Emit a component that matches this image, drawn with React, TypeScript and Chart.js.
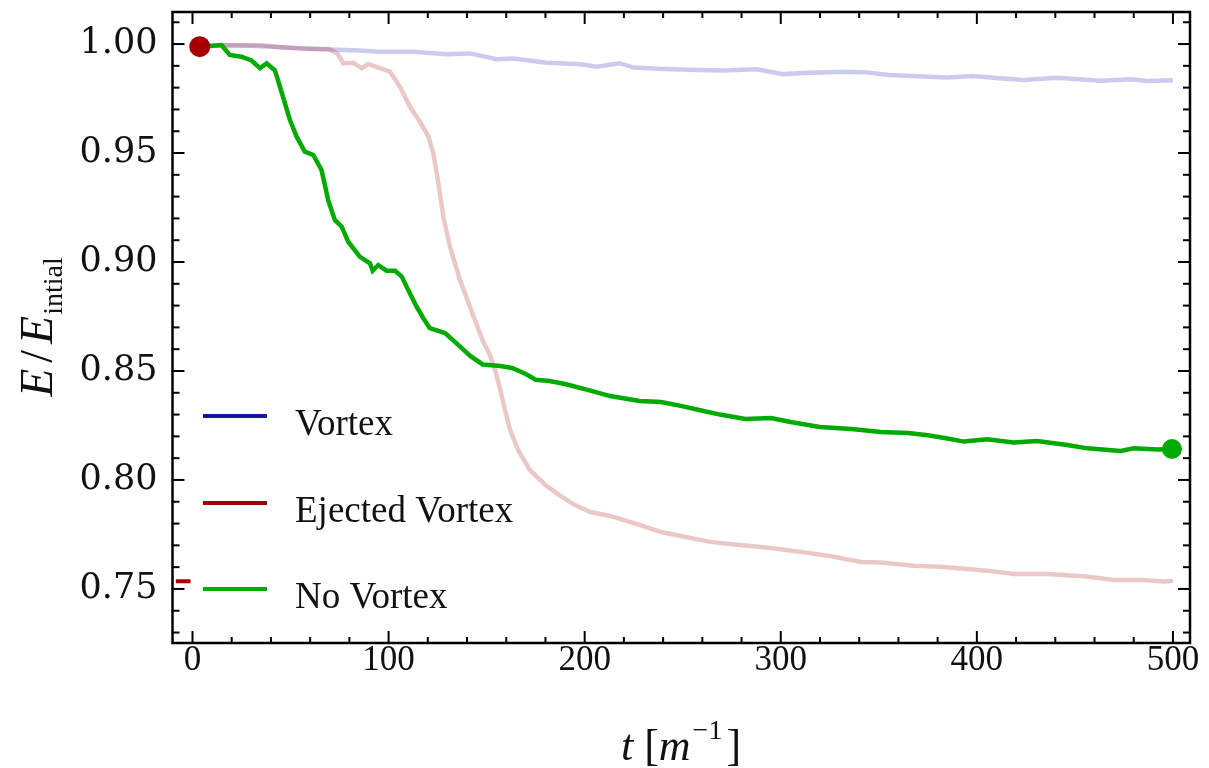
import React, { useEffect, useRef } from "react";
import { Chart, registerables } from "chart.js";

Chart.register(...registerables);

// ---- data ----
const vortexT = [4, 15, 30, 45, 60, 70, 85, 95.6, 112.6, 129.6, 141.5, 155.2, 163.7, 180.7, 197.7, 206, 218, 225, 240.6, 257.9, 270, 288, 301, 315, 333, 344, 355, 370, 385, 398, 410, 424, 441, 452, 463, 471, 479, 487, 500];
const vortexE = [0.9988, 0.9994, 0.9992, 0.9985, 0.9978, 0.9975, 0.997, 0.9965, 0.9965, 0.9953, 0.9957, 0.993, 0.9934, 0.9914, 0.9907, 0.9896, 0.9912, 0.9892, 0.9886, 0.9881, 0.9879, 0.9884, 0.9862, 0.9868, 0.9873, 0.987, 0.9858, 0.9852, 0.9847, 0.9853, 0.9844, 0.9835, 0.9845, 0.9838, 0.9832, 0.9835, 0.9838, 0.983, 0.9834];

const ejectedT = [4, 15, 25, 35, 45, 55, 65, 70, 74, 77, 82, 86.3, 89.6, 95.6, 100.7, 105.8, 110.9, 116, 120.3, 122.8, 125.4, 127.9, 131.3, 136.4, 141.5, 144, 148, 151.8, 154.3, 157, 159.4, 162, 166, 172, 180, 187.6, 195, 203, 213, 228, 239, 249, 264, 279, 295, 310, 325, 341, 351, 368, 381.5, 405, 419, 436, 456, 470, 484, 495.5, 500];
const ejectedE = [0.9988, 0.9995, 0.9995, 0.9994, 0.9985, 0.998, 0.9977, 0.9976, 0.9955, 0.9911, 0.9914, 0.9889, 0.9908, 0.9889, 0.9873, 0.9804, 0.9712, 0.9644, 0.9575, 0.9499, 0.9361, 0.9208, 0.907, 0.8917, 0.8795, 0.8734, 0.864, 0.857, 0.8505, 0.8413, 0.832, 0.8229, 0.8138, 0.8046, 0.7977, 0.7927, 0.7885, 0.7853, 0.7835, 0.7794, 0.7761, 0.7743, 0.7716, 0.7702, 0.7688, 0.767, 0.7651, 0.7624, 0.7621, 0.7606, 0.7602, 0.7584, 0.7569, 0.7569, 0.7557, 0.7541, 0.7541, 0.7534, 0.7537];

const noVortexT = [4, 14.8, 19, 25, 30, 34.4, 37.8, 42, 44.6, 49.7, 53.1, 57.3, 61.6, 65.8, 69.2, 72.6, 76.1, 79.4, 85.4, 90.5, 91.9, 94.7, 99, 103.3, 106.7, 110.9, 114.3, 117.7, 121, 128.8, 135.5, 141.5, 148, 157, 163, 170, 175, 182, 190, 203, 213, 228, 239, 249, 259, 269, 282, 295, 305, 320, 336, 351, 365, 375, 385, 393.4, 405.3, 418.7, 430.8, 446.1, 456.4, 473.4, 480, 492.1, 500];
const noVortexE = [0.9988, 0.9995, 0.995, 0.9942, 0.9925, 0.9889, 0.9911, 0.988, 0.9804, 0.9651, 0.9575, 0.9506, 0.9491, 0.9422, 0.9284, 0.9193, 0.9162, 0.9093, 0.9024, 0.8994, 0.896, 0.8986, 0.896, 0.896, 0.8933, 0.8856, 0.8795, 0.8742, 0.8697, 0.8674, 0.862, 0.857, 0.853, 0.8523, 0.8514, 0.8486, 0.846, 0.8454, 0.844, 0.841, 0.8385, 0.8362, 0.8358, 0.834, 0.832, 0.83, 0.828, 0.8284, 0.8266, 0.8243, 0.8234, 0.822, 0.8215, 0.8205, 0.819, 0.8176, 0.8187, 0.8172, 0.8179, 0.816, 0.8145, 0.8133, 0.8145, 0.814, 0.8142];

// markers
const startMarkerT = [3.7];
const startMarkerE = [0.9988];
const endMarkerT = [499.5];
const endMarkerE = [0.8142];
// short dark-red dash at the left edge (last value of the ejected run)
const dashT = [-8.5, -1];
const dashE = [0.7535, 0.7535];

const legendLabels = ["Vortex", "Ejected Vortex", "No Vortex"];
const legendColors = ["#1414a0", "#a00000", "#00aa00"];

const xMin = -10.2;
const xMax = 508.7;
const yMin = 0.7252;
const yMax = 1.0147;
const xMajorStep = 100;
const xMinorStep = 20;
const yMajorStep = 0.05;
const yMinorStep = 0.01;

function pts(ts: number[], vs: number[]) {
  return ts.map((t, i) => ({ x: t, y: vs[i] }));
}

export default function App() {
  const ref = useRef<HTMLCanvasElement>(null);

  useEffect(() => {
    if (!ref.current) return;

    const framePlugin = {
      id: "framePlugin",
      afterDraw(chart: any) {
        const ctx: CanvasRenderingContext2D = chart.ctx;
        const { left, right, top, bottom } = chart.chartArea;
        const xs = chart.scales.x;
        const ys = chart.scales.y;
        ctx.save();
        ctx.strokeStyle = "#000";
        ctx.lineWidth = 2;
        const seg = (x1: number, y1: number, x2: number, y2: number) => {
          ctx.beginPath();
          ctx.moveTo(x1, y1);
          ctx.lineTo(x2, y2);
          ctx.stroke();
        };
        // x ticks (inward, bottom and top)
        for (let k = 0; k * xMinorStep <= 500; k++) {
          const t = k * xMinorStep;
          const px = xs.getPixelForValue(t);
          const major = Math.abs(t / xMajorStep - Math.round(t / xMajorStep)) < 1e-9;
          const len = major ? 12 : 6;
          seg(px, bottom, px, bottom - len);
          seg(px, top, px, top + len);
        }
        // y ticks (inward, left and right)
        for (let k = Math.ceil(yMin / yMinorStep); k * yMinorStep <= yMax + 1e-9; k++) {
          const v = k * yMinorStep;
          const py = ys.getPixelForValue(v);
          const major = k % Math.round(yMajorStep / yMinorStep) === 0;
          const len = major ? 12 : 7;
          seg(left, py, left + len, py);
          seg(right, py, right - len, py);
        }
        ctx.lineWidth = 2.5;
        ctx.strokeRect(left, top, right - left, bottom - top);

        // legend
        const legendY = [416, 503, 589];
        legendLabels.forEach((lab, i) => {
          ctx.strokeStyle = legendColors[i];
          ctx.lineWidth = 4;
          seg(203, legendY[i], 267, legendY[i]);
          ctx.fillStyle = "#111";
          ctx.font = "37px 'Liberation Serif'";
          ctx.textAlign = "left";
          ctx.textBaseline = "alphabetic";
          ctx.fillText(lab, 295, legendY[i] + 19);
        });

        // y-axis title: E / E_intial (rotated)
        ctx.fillStyle = "#111";
        ctx.textBaseline = "alphabetic";
        ctx.textAlign = "left";
        const fMainI = "italic 46px 'Liberation Serif'";
        const fMain = "46px 'Liberation Serif'";
        const fSub = "28px 'Liberation Serif'";
        ctx.font = fMainI;
        const wE = ctx.measureText("E").width;
        ctx.font = fMain;
        const wS = ctx.measureText("/").width;
        ctx.font = fSub;
        const wSub = ctx.measureText("intial").width;
        const gap = 6;
        const total = wE + gap + wS + gap + wE + 1 + wSub;
        ctx.save();
        ctx.translate(52, 0);
        ctx.rotate(-Math.PI / 2);
        let u = -(327 + total / 2);
        ctx.font = fMainI;
        ctx.fillText("E", u, 0);
        u += wE + gap;
        ctx.font = fMain;
        ctx.fillText("/", u, 0);
        u += wS + gap;
        ctx.font = fMainI;
        ctx.fillText("E", u, 0);
        u += wE + 1;
        ctx.font = fSub;
        ctx.fillText("intial", u, 10);
        ctx.restore();

        // x-axis title: t [m^-1]
        const fx = "44px 'Liberation Serif'";
        const fxi = "italic 44px 'Liberation Serif'";
        const fsup = "28px 'Liberation Serif'";
        ctx.font = fxi;
        const wt = ctx.measureText("t").width;
        const wm = ctx.measureText("m").width;
        ctx.font = fx;
        const wsp = ctx.measureText(" ").width;
        const wb1 = ctx.measureText("[").width;
        const wb2 = ctx.measureText("]").width;
        ctx.font = fsup;
        const wsup = ctx.measureText("\u22121").width;
        const tot = wt + wsp + wb1 + wm + 2 + wsup + 4 + wb2;
        let x = 681 - tot / 2;
        const base = 760;
        ctx.font = fxi;
        ctx.fillText("t", x, base);
        x += wt + wsp;
        ctx.font = fx;
        ctx.fillText("[", x, base);
        x += wb1;
        ctx.font = fxi;
        ctx.fillText("m", x, base);
        x += wm + 2;
        ctx.font = fsup;
        ctx.fillText("\u22121", x, base - 21);
        x += wsup + 4;
        ctx.font = fx;
        ctx.fillText("]", x, base);
        ctx.restore();
      },
    };

    const chart = new Chart(ref.current, {
      type: "line",
      data: {
        datasets: [
          {
            label: "start",
            data: pts(startMarkerT, startMarkerE),
            showLine: false,
            pointRadius: 10.5,
            pointBackgroundColor: "#a80000",
            pointBorderWidth: 0,
            borderColor: "#a80000",
          },
          {
            label: "end",
            data: pts(endMarkerT, endMarkerE),
            showLine: false,
            pointRadius: 10,
            pointBackgroundColor: "#00aa00",
            pointBorderWidth: 0,
            borderColor: "#00aa00",
          },
          {
            label: "No Vortex",
            data: pts(noVortexT, noVortexE),
            borderColor: "#00aa00",
            borderWidth: 4.5,
            pointRadius: 0,
            tension: 0,
          },
          {
            label: "Ejected Vortex",
            data: pts(ejectedT, ejectedE),
            borderColor: "rgba(170,0,0,0.22)",
            borderWidth: 4.5,
            pointRadius: 0,
            tension: 0,
          },
          {
            label: "Vortex",
            data: pts(vortexT, vortexE),
            borderColor: "rgba(20,20,180,0.22)",
            borderWidth: 4.5,
            pointRadius: 0,
            tension: 0,
          },
          {
            label: "dash",
            data: pts(dashT, dashE),
            borderColor: "#a80000",
            borderWidth: 4,
            pointRadius: 0,
          },
        ],
      },
      options: {
        animation: false,
        responsive: false,
        devicePixelRatio: 1,
        layout: { padding: { left: 0, top: 12, right: 19, bottom: 0 } },
        plugins: {
          legend: { display: false },
          tooltip: { enabled: false },
        },
        scales: {
          x: {
            type: "linear",
            min: xMin,
            max: xMax,
            grid: { display: false, drawTicks: false },
            border: { display: false },
            ticks: {
              stepSize: xMajorStep,
              includeBounds: false,
              padding: -3,
              color: "#111",
              font: { family: "'Liberation Serif'", size: 35 },
              callback: (v: any) => String(Math.round(Number(v))),
            },
            afterFit: (s: any) => {
              s.height = 125;
              s.paddingLeft = 0;
              s.paddingRight = 0;
            },
          },
          y: {
            type: "linear",
            min: yMin,
            max: yMax,
            grid: { display: false, drawTicks: false },
            border: { display: false },
            ticks: {
              stepSize: yMajorStep,
              includeBounds: false,
              padding: 15,
              color: "#111",
              font: { family: "'DejaVu Serif'", size: 35 },
              callback: (v: any) => Number(v).toFixed(2),
            },
            afterFit: (s: any) => {
              s.width = 172.5;
              s.paddingTop = 0;
              s.paddingBottom = 0;
            },
          },
        },
      },
      plugins: [framePlugin],
    } as any);

    return () => chart.destroy();
  }, []);

  return (
    <div style={{ position: "fixed", left: 0, top: 0, width: 1209, height: 768, background: "#fff" }}>
      <canvas ref={ref} width={1209} height={768} style={{ display: "block" }} />
    </div>
  );
}
